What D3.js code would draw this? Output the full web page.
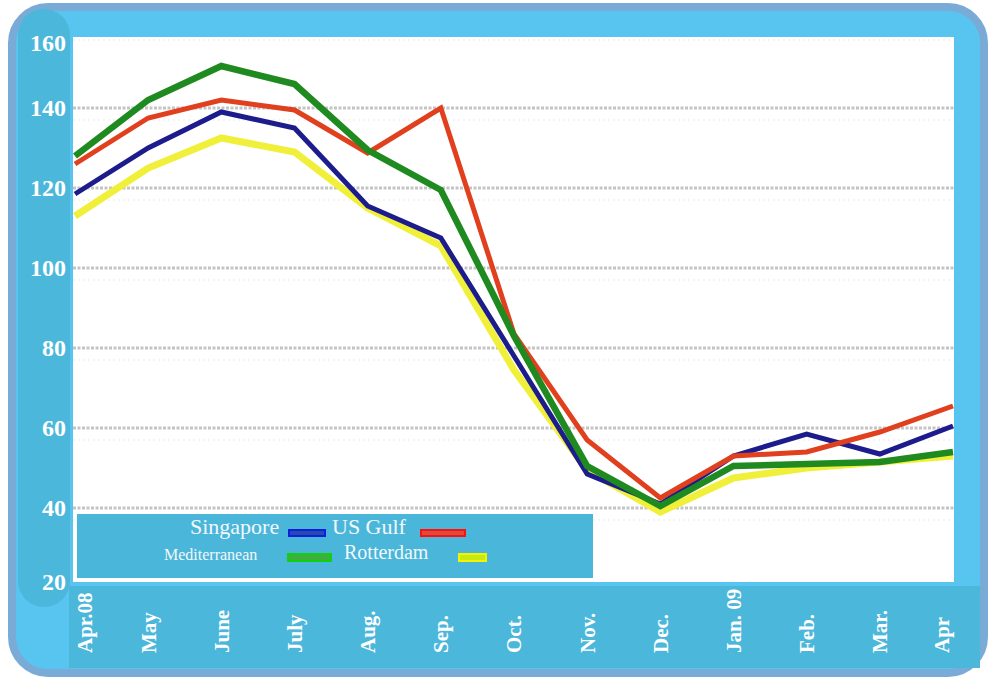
<!DOCTYPE html>
<html>
<head>
<meta charset="utf-8">
<script src="https://cdn.jsdelivr.net/npm/d3@7"></script>
<style>
  html, body { margin: 0; padding: 0; background: #ffffff; }
  #stage { width: 994px; height: 677px; }
</style>
</head>
<body>
<div id="stage"></div>
<script>
const months = ["Apr.08", "May", "June", "July", "Aug.", "Sep.", "Oct.", "Nov.", "Dec.", "Jan. 09", "Feb.", "Mar.", "Apr"];
const yTicks = [160, 140, 120, 100, 80, 60, 40, 20];
const gridTicks = [140, 120, 100, 80, 60, 40];

const singapore = [118.5, 130, 139, 135, 115.5, 107.5, 78, 48.5, 41, 53, 58.5, 53.5, 60.5];
const usGulf = [126, 137.5, 142, 139.5, 128.75, 140, 83.5, 57, 42.5, 53, 54, 59, 65.5];
const mediterranean = [128, 142, 150.5, 146, 129.5, 119.5, 83, 50.5, 40.5, 50.5, 51, 51.5, 54];
const rotterdam = [113, 125, 132.5, 129, 115, 105.5, 74.5, 49.5, 39, 47.5, 50, 51.5, 53];

const series = [
  { name: "Rotterdam", values: rotterdam, color: "#f0f03a", width: 7 },
  { name: "Singapore", values: singapore, color: "#1c1c8c", width: 5 },
  { name: "US Gulf", values: usGulf, color: "#e0401e", width: 5 },
  { name: "Mediterranean", values: mediterranean, color: "#1f8a1f", width: 6.5 }
];

const width = 994;
const height = 677;
const plot = { left: 73, top: 37, right: 954, bottom: 582 };

const svg = d3.select("#stage")
  .append("svg")
  .attr("width", width)
  .attr("height", height)
  .attr("viewBox", `0 0 ${width} ${height}`);

// frame
svg.append("rect")
  .attr("x", 12).attr("y", 7)
  .attr("width", 972).attr("height", 666)
  .attr("rx", 36)
  .attr("fill", "#58c5f1")
  .attr("stroke", "#7aabd6")
  .attr("stroke-width", 8);

svg.append("rect")
  .attr("x", 18).attr("y", 9)
  .attr("width", 52).attr("height", 598)
  .attr("rx", 26)
  .attr("fill", "#4bb7db");

svg.append("rect")
  .attr("x", 69).attr("y", 586)
  .attr("width", 911).attr("height", 82)
  .attr("fill", "#4bb7db");

svg.append("rect")
  .attr("x", plot.left).attr("y", plot.top)
  .attr("width", plot.right - plot.left)
  .attr("height", plot.bottom - plot.top)
  .attr("fill", "#ffffff");

const x = d3.scalePoint()
  .domain(months)
  .range([75, 953]);

const y = d3.scaleLinear()
  .domain([20, 160])
  .range([588, 28]);

// grid
svg.append("g")
  .selectAll("line")
  .data(gridTicks)
  .join("line")
  .attr("x1", plot.left).attr("x2", plot.right)
  .attr("y1", d => y(d)).attr("y2", d => y(d))
  .attr("stroke", "#c4c4c4")
  .attr("stroke-width", 3)
  .attr("stroke-dasharray", "3,1.5");

// faint ghost lines under each grid line
svg.append("g")
  .selectAll("line")
  .data(gridTicks.concat([160]))
  .join("line")
  .attr("x1", plot.left).attr("x2", plot.right)
  .attr("y1", d => y(d) + 12).attr("y2", d => y(d) + 12)
  .attr("stroke", "#f4f4f4")
  .attr("stroke-width", 2)
  .attr("stroke-dasharray", "2,3");

svg.append("clipPath")
  .attr("id", "plotClip")
  .append("rect")
  .attr("x", plot.left).attr("y", plot.top)
  .attr("width", plot.right - plot.left)
  .attr("height", plot.bottom - plot.top);

const line = d3.line()
  .x((d, i) => x(months[i]))
  .y(d => y(d));

svg.append("g")
  .attr("clip-path", "url(#plotClip)")
  .selectAll("path")
  .data(series)
  .join("path")
  .attr("d", d => line(d.values))
  .attr("fill", "none")
  .attr("stroke", d => d.color)
  .attr("stroke-width", d => d.width)
  .attr("stroke-linejoin", "miter");

// y labels
svg.append("g")
  .selectAll("text")
  .data(yTicks)
  .join("text")
  .attr("x", 66)
  .attr("y", d => Math.min(582, Math.max(43, y(d))))
  .attr("dy", "0.35em")
  .attr("text-anchor", "end")
  .attr("font-family", "'Liberation Serif', 'Times New Roman', serif")
  .attr("font-weight", "bold")
  .attr("font-size", "24px")
  .attr("fill", "#ffffff")
  .text(d => d);

// x labels
svg.append("g")
  .selectAll("text")
  .data(months)
  .join("text")
  .attr("transform", d => `translate(${Math.min(942, Math.max(85, x(d)))},653) rotate(-90)`)
  .attr("dy", "0.35em")
  .attr("text-anchor", "start")
  .attr("font-family", "'Liberation Serif', 'Times New Roman', serif")
  .attr("font-weight", "bold")
  .attr("font-size", "21px")
  .attr("fill", "#ffffff")
  .text(d => d);

// legend
const legend = svg.append("g");

legend.append("rect")
  .attr("x", 77).attr("y", 514)
  .attr("width", 516).attr("height", 64)
  .attr("fill", "#4ab6da");

const legendFont = "'Liberation Serif', 'Times New Roman', serif";

legend.append("text")
  .attr("x", 190).attr("y", 534)
  .attr("font-family", legendFont)
  .attr("font-size", "22px")
  .attr("fill", "#f2f8fb")
  .text("Singapore");

legend.append("text")
  .attr("x", 332).attr("y", 534)
  .attr("font-family", legendFont)
  .attr("font-size", "22px")
  .attr("fill", "#f2f8fb")
  .text("US Gulf");

legend.append("text")
  .attr("x", 164).attr("y", 560)
  .attr("font-family", legendFont)
  .attr("font-size", "16px")
  .attr("fill", "#f2f8fb")
  .text("Mediterranean");

legend.append("text")
  .attr("x", 344).attr("y", 559)
  .attr("font-family", legendFont)
  .attr("font-size", "20px")
  .attr("fill", "#f2f8fb")
  .text("Rotterdam");

const swatches = [
  { x: 289, y: 530, w: 36, h: 6, stroke: "#0a1ee6", fill: "#2a4aa8" },
  { x: 421, y: 530, w: 44, h: 6, stroke: "#ff1010", fill: "#e04a3a" },
  { x: 288, y: 554, w: 43, h: 7, stroke: "#10d010", fill: "#3fae3f" },
  { x: 459, y: 554, w: 27, h: 7, stroke: "#f4f400", fill: "#c8ea10" }
];

legend.selectAll("rect.sw")
  .data(swatches)
  .join("rect")
  .attr("class", "sw")
  .attr("x", d => d.x).attr("y", d => d.y)
  .attr("width", d => d.w).attr("height", d => d.h)
  .attr("fill", d => d.fill)
  .attr("stroke", d => d.stroke)
  .attr("stroke-width", 2);
</script>
</body>
</html>
